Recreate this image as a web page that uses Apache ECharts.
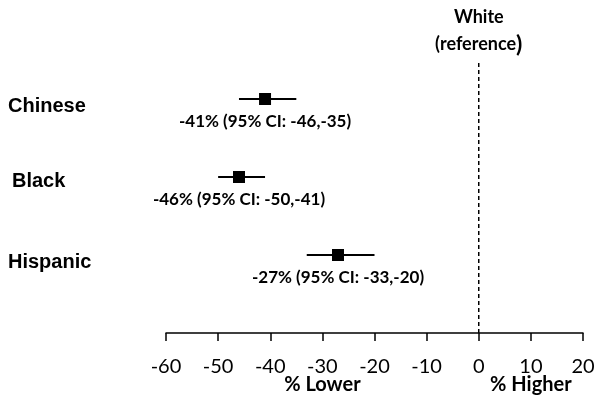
<!DOCTYPE html>
<html>
<head>
<meta charset="utf-8">
<script src="https://cdn.jsdelivr.net/npm/echarts@6/dist/echarts.min.js"></script>
<style>
  html, body { margin: 0; padding: 0; background: #fff; }
  #main { width: 604px; height: 409px; }
</style>
</head>
<body>
<div id="main"></div>
<script>
// 数据
var groups = ['Chinese', 'Black', 'Hispanic'];
var rowPos = [3, 2, 1];
var estimate = [-41, -46, -27];
var ciLow = [-46, -50, -33];
var ciHigh = [-35, -41, -20];
var xTicks = [-60, -50, -40, -30, -20, -10, 0, 10, 20];
var axisNames = [['% Lower', -30], ['% Higher', 10]];
var refName = 'White';

var chart = echarts.init(document.getElementById('main'));

var whiskerData = groups.map(function (g, i) { return [ciLow[i], ciHigh[i], rowPos[i]]; });
var pointData = groups.map(function (g, i) {
    return { value: [estimate[i], rowPos[i]], ci: [ciLow[i], ciHigh[i]] };
});

var labelFont = 'Lato, "Noto Sans", sans-serif';
var catFont = '"Liberation Sans", Arial, sans-serif';

var option = {
    animation: false,
    grid: { left: 166, right: 21, top: 21, bottom: 76 },
    xAxis: {
        type: 'value',
        min: xTicks[0],
        max: xTicks[xTicks.length - 1],
        interval: 10,
        axisLine: { show: true, onZero: false, lineStyle: { color: '#000', width: 1.5 } },
        axisTick: { show: true, length: 8, lineStyle: { color: '#000', width: 1.5 } },
        axisLabel: { color: '#000', fontSize: 20, fontFamily: labelFont, margin: 24 },
        splitLine: { show: false }
    },
    yAxis: {
        type: 'value',
        min: 0,
        max: 4,
        interval: 1,
        axisLine: { show: false },
        axisTick: { show: false },
        splitLine: { show: false },
        axisLabel: {
            align: 'left',
            margin: 158,
            formatter: function (v) {
                var i = rowPos.indexOf(v);
                if (i < 0) return '';
                return '{' + (groups[i] === 'Black' ? 'b' : 'a') + '|' + groups[i] + '}';
            },
            rich: {
                a: { fontFamily: catFont, fontWeight: 'bold', fontSize: 20, color: '#000', padding: [14, 0, 0, 0] },
                b: { fontFamily: catFont, fontWeight: 'bold', fontSize: 20, color: '#000', padding: [8, 0, 0, 4] }
            }
        }
    },
    series: [
        {
            // 参考线
            type: 'line',
            data: [[0, 0], [0, 3.5]],
            symbol: 'none',
            lineStyle: { color: '#000', width: 1.5, type: [4, 3] },
            z: 1
        },
        {
            type: 'scatter',
            data: [[0, 3.5]],
            symbolSize: 0,
            itemStyle: { opacity: 1 },
            label: {
                show: true,
                position: 'top',
                distance: 2,
                formatter: '{w|' + refName + '}\n{w|(reference}{p|)}',
                rich: {
                    w: { fontFamily: labelFont, fontWeight: 'bold', fontSize: 18, color: '#000', lineHeight: 27, align: 'center' },
                    p: { fontFamily: labelFont, fontWeight: 'bold', fontSize: 23, color: '#000', lineHeight: 27 }
                }
            }
        },
        {
            type: 'custom',
            data: whiskerData,
            renderItem: function (params, api) {
                var a = api.coord([api.value(0), api.value(2)]);
                var b = api.coord([api.value(1), api.value(2)]);
                return {
                    type: 'line',
                    shape: { x1: a[0], y1: a[1], x2: b[0], y2: b[1] },
                    style: { stroke: '#000', lineWidth: 2 }
                };
            },
            z: 2
        },
        {
            type: 'scatter',
            data: pointData,
            symbol: 'rect',
            symbolSize: 12,
            itemStyle: { color: '#000', opacity: 1 },
            label: {
                show: true,
                position: 'bottom',
                distance: 8,
                color: '#000',
                fontFamily: labelFont,
                fontWeight: 'bold',
                fontSize: 17,
                formatter: function (p) {
                    return p.value[0] + '% (95% CI: ' + p.data.ci[0] + ',' + p.data.ci[1] + ')';
                }
            },
            z: 3
        },
        {
            type: 'scatter',
            data: axisNames.map(function (n) { return { name: n[0], value: [n[1], 0] }; }),
            symbolSize: 0,
            itemStyle: { opacity: 1 },
            label: {
                show: true,
                position: 'bottom',
                distance: 42,
                color: '#000',
                fontFamily: labelFont,
                fontWeight: 'bold',
                fontSize: 20,
                formatter: '{b}'
            }
        }
    ]
};

chart.setOption(option);
</script>
</body>
</html>
